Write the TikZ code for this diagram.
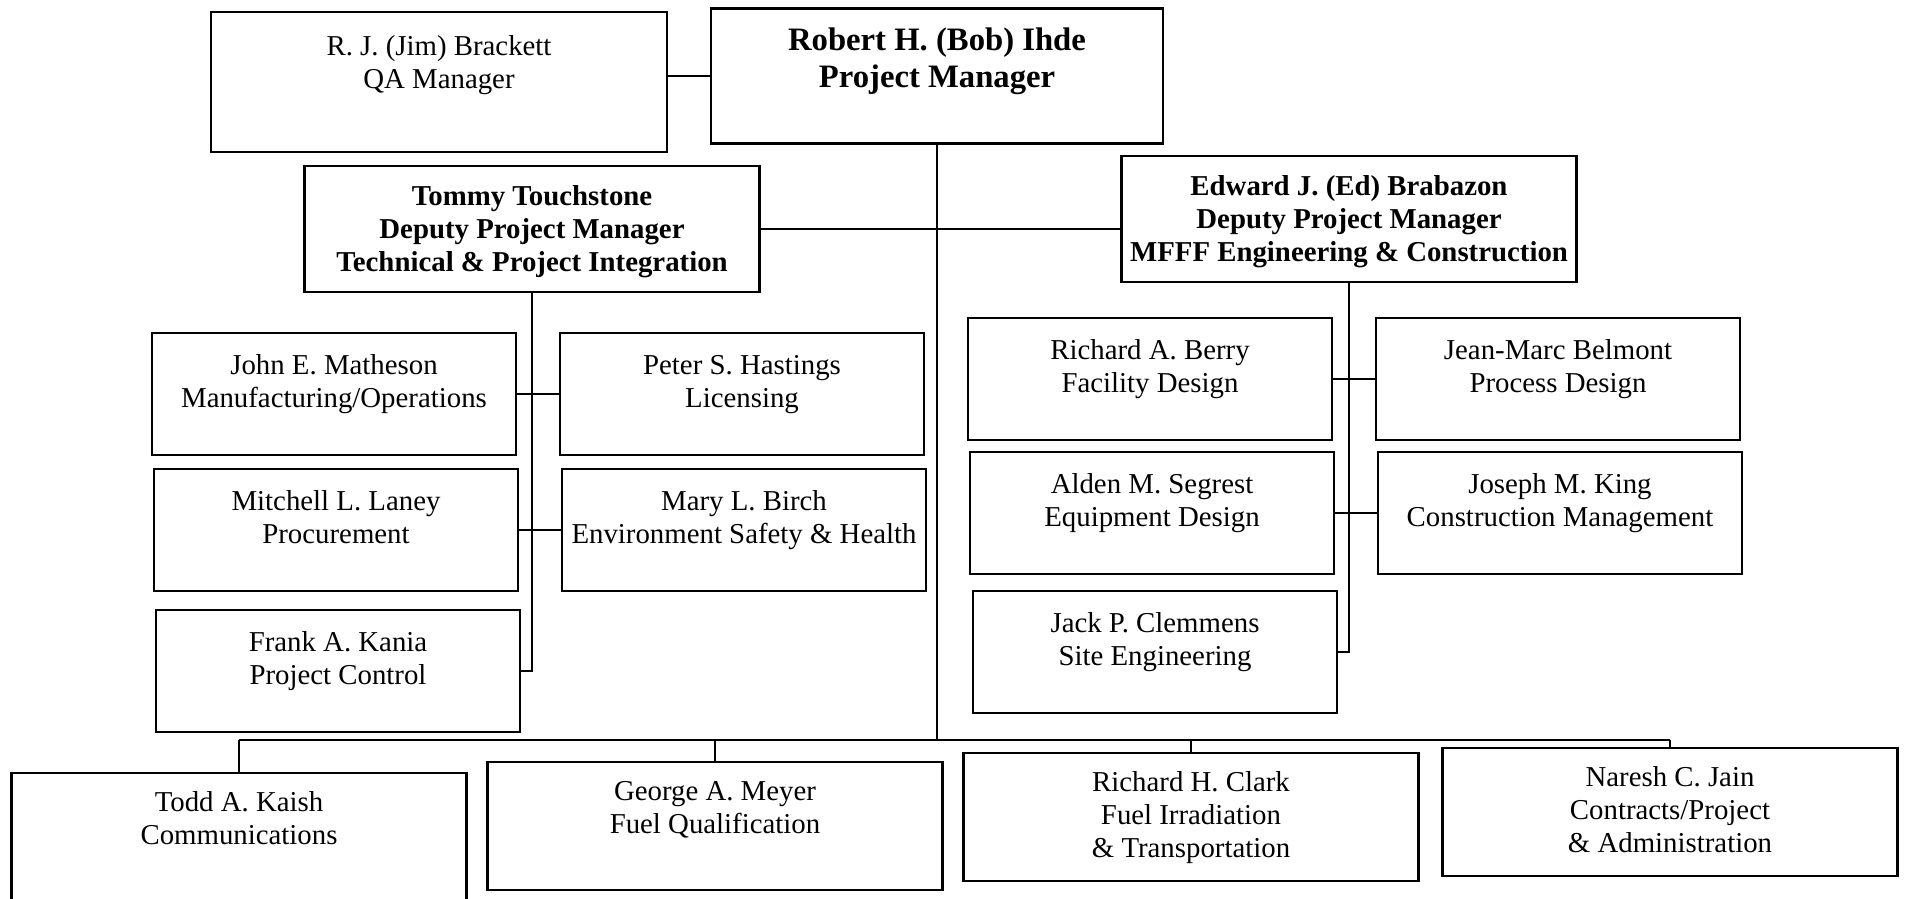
\documentclass[tikz,border=0pt]{standalone}
\usepackage{fontspec}
\setmainfont{Liberation Serif}
\usepackage{tikz}

\begin{document}
\begin{tikzpicture}[node distance=4.08cm,
    box/.style={draw, line width=0.6pt, inner sep=0pt, align=center,
                font=\fontsize{8.2}{9.4}\selectfont},
    head/.style={box, minimum width=4.52cm, text height=0.79cm, text depth=0.56cm,
                font=\fontsize{9.3}{10.6}\selectfont\bfseries},
    wide/.style={box, minimum width=4.56cm, text height=0.77cm, text depth=0.63cm},
    deputy/.style={box, minimum width=4.55cm, text height=1.06cm, text depth=0.20cm,
                font=\fontsize{8.2}{9.4}\selectfont\bfseries},
    staff/.style={box, minimum width=3.64cm, text height=0.75cm, text depth=0.47cm},
    lead/.style={box, minimum width=4.55cm, text height=0.72cm, text depth=0.56cm},
    lead3/.style={lead, text height=1.05cm, text depth=0.23cm},
    link/.style={line width=0.8pt}]
  \useasboundingbox (0,0) rectangle (19.11,-8.99);

  \node[head] (pm) at (9.37,-0.76) {Robert H. (Bob) Ihde\\Project Manager};
  \node[wide] (qa) at (4.39,-0.82) {R. J. (Jim) Brackett\\QA Manager};
  \node[deputy] (tommy) at (5.32,-2.29) {Tommy Touchstone\\Deputy Project Manager\\Technical \& Project Integration};
  \node[deputy] (ed) at (13.49,-2.19) {Edward J. (Ed) Brabazon\\Deputy Project Manager\\MFFF Engineering \& Construction};

  \node[staff] (matheson) at (3.34,-3.94) {John E. Matheson\\Manufacturing/Operations};
  \node[staff] (hastings) [right of=matheson] {Peter S. Hastings\\Licensing};
  \node[staff] (laney) at (3.36,-5.30) {Mitchell L. Laney\\Procurement};
  \node[staff] (birch) [right of=laney] {Mary L. Birch\\Environment Safety \& Health};
  \node[staff] (kania) at (3.38,-6.71) {Frank A. Kania\\Project Control};

  \node[staff] (berry) at (11.50,-3.79) {Richard A. Berry\\Facility Design};
  \node[staff] (belmont) [right of=berry] {Jean-Marc Belmont\\Process Design};
  \node[staff] (segrest) at (11.52,-5.13) {Alden M. Segrest\\Equipment Design};
  \node[staff] (king) [right of=segrest] {Joseph M. King\\Construction Management};
  \node[staff] (clemmens) at (11.55,-6.52) {Jack P. Clemmens\\Site Engineering};

  \node[lead] (kaish) at (2.39,-8.37) {Todd A. Kaish\\Communications};
  \node[lead] (meyer) at (7.15,-8.26) {George A. Meyer\\Fuel Qualification};
  \node[lead3] (clark) at (11.91,-8.17) {Richard H. Clark\\Fuel Irradiation\\\& Transportation};
  \node[lead3] (jain) at (16.70,-8.12) {Naresh C. Jain\\Contracts/Project\\\& Administration};

  \coordinate (bus) at (9.37,-7.40);

  \draw[link] (pm.west) -- (pm.west -| qa.east);
  \draw[link] (tommy.east) -- (tommy.east -| ed.west);
  \draw[link] (pm.south) -- (bus);
  \draw[link] (kaish.north |- bus) -- (jain.north |- bus);
  \foreach \n in {kaish,meyer,clark,jain}
    \draw[link] (\n.north |- bus) -- (\n.north);

  \draw[link] (tommy.south) |- (kania.east);
  \draw[link] (matheson) -- (hastings);
  \draw[link] (laney) -- (birch);
  \draw[link] (ed.south) |- (clemmens.east);
  \draw[link] (berry) -- (belmont);
  \draw[link] (segrest) -- (king);
\end{tikzpicture}
\end{document}
